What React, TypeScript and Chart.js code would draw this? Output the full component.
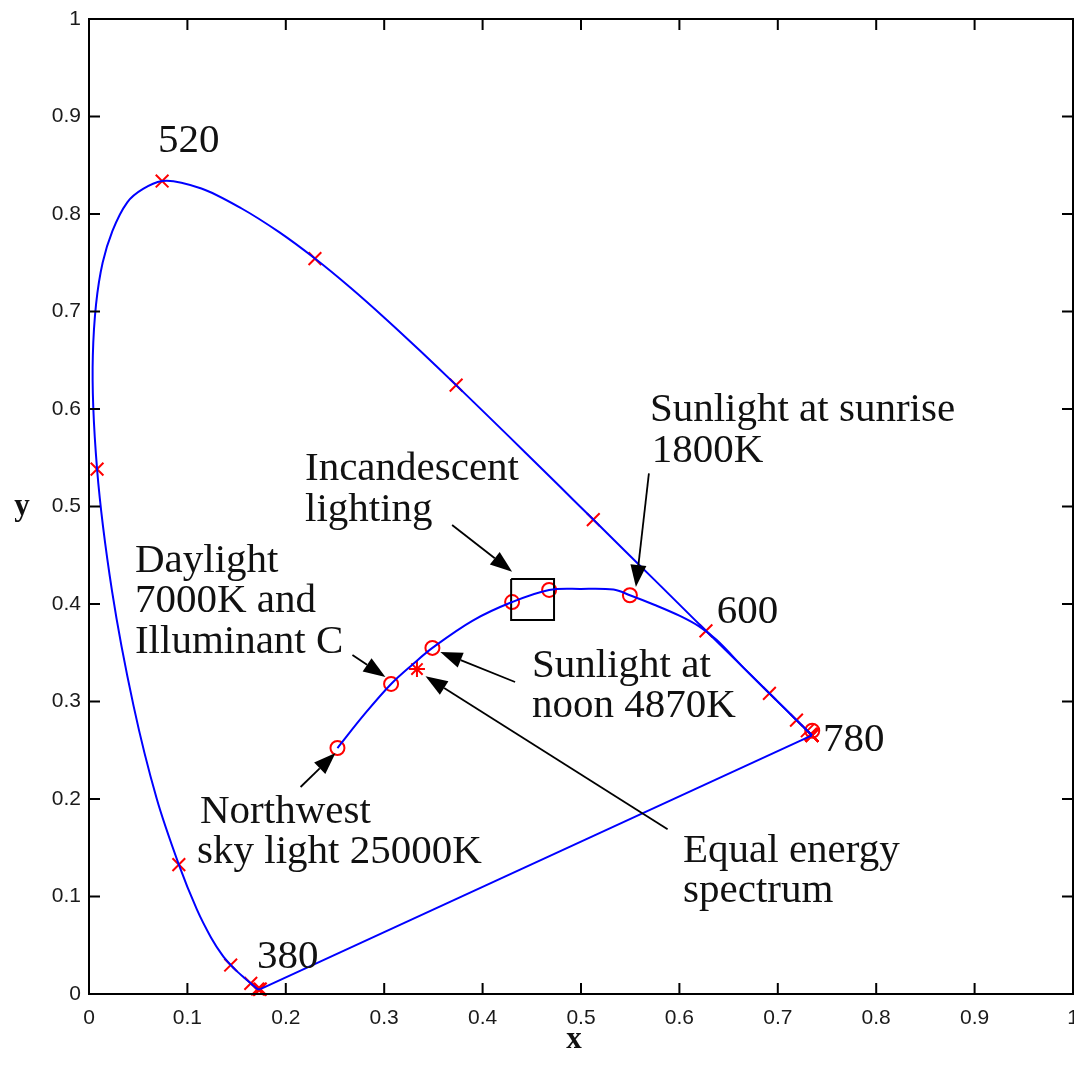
import React, { useEffect, useRef } from 'react';
import { Chart, registerables } from 'chart.js';

Chart.register(...registerables);

// CIE 1931 spectral locus (wavelength in nm)
const wavelengths = [
  380, 385, 390, 395, 400, 405, 410, 415, 420, 425, 430, 435, 440, 445, 450, 455, 460, 465, 470, 475,
  480, 485, 490, 495, 500, 505, 510, 515, 520, 525, 530, 535, 540, 545, 550, 555, 560, 565, 570, 575,
  580, 585, 590, 595, 600, 605, 610, 615, 620, 625, 630, 635, 640, 645, 650, 655, 660, 665, 670, 675,
  680, 685, 690, 695, 700, 720, 740, 760, 780,
];
const locusX = [
  0.1741, 0.174, 0.1738, 0.1736, 0.1733, 0.173, 0.1726, 0.1721, 0.1714, 0.1703, 0.1689, 0.1669, 0.1644, 0.1611, 0.1566, 0.151, 0.144, 0.1355, 0.1241, 0.1096,
  0.0913, 0.0687, 0.0454, 0.0235, 0.0082, 0.0039, 0.0139, 0.0389, 0.0743, 0.1142, 0.1547, 0.1929, 0.2296, 0.2658, 0.3016, 0.3373, 0.3731, 0.4087, 0.4441, 0.4788,
  0.5125, 0.5448, 0.5752, 0.6029, 0.627, 0.6482, 0.6658, 0.6801, 0.6915, 0.7006, 0.7079, 0.714, 0.719, 0.723, 0.726, 0.7283, 0.73, 0.7311, 0.732, 0.7327,
  0.7334, 0.734, 0.7344, 0.7346, 0.7347, 0.7347, 0.7347, 0.7347, 0.7347,
];
const locusY = [
  0.005, 0.005, 0.0049, 0.0049, 0.0048, 0.0048, 0.0048, 0.0048, 0.0051, 0.0058, 0.0069, 0.0086, 0.0109, 0.0138, 0.0177, 0.0227, 0.0297, 0.0399, 0.0578, 0.0868,
  0.1327, 0.2007, 0.295, 0.4127, 0.5384, 0.6548, 0.7502, 0.812, 0.8338, 0.8262, 0.8059, 0.7816, 0.7543, 0.7243, 0.6923, 0.6589, 0.6245, 0.5896, 0.5547, 0.5202,
  0.4866, 0.4544, 0.4242, 0.3965, 0.3725, 0.3514, 0.334, 0.3197, 0.3083, 0.2993, 0.292, 0.2859, 0.2809, 0.277, 0.274, 0.2717, 0.27, 0.2689, 0.268, 0.2673,
  0.2666, 0.266, 0.2656, 0.2654, 0.2653, 0.2653, 0.2653, 0.2653, 0.2653,
];

// Curve through the light sources (blackbody / daylight)
const sourceCurveX = [0.2525, 0.28, 0.307, 0.33, 0.349, 0.39, 0.43, 0.4676, 0.5, 0.533, 0.5497, 0.575, 0.6, 0.62, 0.638, 0.6658, 0.6915, 0.7347];
const sourceCurveY = [0.2523, 0.287, 0.318, 0.339, 0.355, 0.383, 0.402, 0.4144, 0.4155, 0.4148, 0.409, 0.399, 0.388, 0.377, 0.363, 0.334, 0.3083, 0.2653];

// Light sources marked with circles
const sourceX = [0.2525, 0.307, 0.349, 0.43, 0.4676, 0.5497, 0.735];
const sourceY = [0.2523, 0.318, 0.355, 0.402, 0.4144, 0.409, 0.27];

// Equal energy point
const equalEnergyX = [0.3333];
const equalEnergyY = [0.3333];

// Box around incandescent lighting
const boxX = [0.429, 0.4726, 0.4726, 0.429, 0.429];
const boxY = [0.4256, 0.4256, 0.3836, 0.3836, 0.4256];

// Axis ticks
const tickValues = [0, 0.1, 0.2, 0.3, 0.4, 0.5, 0.6, 0.7, 0.8, 0.9, 1];
const tickLabels = ['0', '0.1', '0.2', '0.3', '0.4', '0.5', '0.6', '0.7', '0.8', '0.9', '1'];

// Text annotations (data coordinates of baseline-left)
const noteTexts = [
  '520', 'Sunlight at sunrise', '1800K', 'Incandescent', 'lighting',
  'Daylight', '7000K and', 'Illuminant C', '600', 'Sunlight at', 'noon 4870K',
  '780', 'Northwest', 'sky light 25000K', 'Equal energy', 'spectrum', '380',
];
const noteX = [
  0.0701, 0.570, 0.572, 0.2195, 0.2195,
  0.0467, 0.0467, 0.0467, 0.638, 0.4502, 0.4502,
  0.746, 0.1128, 0.1098, 0.6037, 0.6037, 0.1707,
];
const noteY = [
  0.8636, 0.5877, 0.5456, 0.5272, 0.4851,
  0.4328, 0.3918, 0.3497, 0.3805, 0.3251, 0.2841,
  0.2492, 0.1754, 0.1344, 0.1354, 0.0944, 0.0267,
];

// Arrows (from -> to, data coordinates)
const arrowFromX = [0.369, 0.569, 0.2677, 0.433, 0.588, 0.215];
const arrowFromY = [0.481, 0.534, 0.3477, 0.32, 0.169, 0.2123];
const arrowToX = [0.43, 0.5558, 0.3012, 0.357, 0.342, 0.2505];
const arrowToY = [0.433, 0.4174, 0.3251, 0.3508, 0.326, 0.2472];

const toPts = (xs: number[], ys: number[]) => xs.map((v, i) => ({ x: v, y: ys[i] }));

const overlayPlugin = {
  id: 'overlay',
  afterDatasetsDraw(chart: any) {
    const { ctx, chartArea: a, scales } = chart;
    const sx = scales.x;
    const sy = scales.y;
    ctx.save();

    // frame
    ctx.strokeStyle = '#000';
    ctx.lineWidth = 2;
    ctx.strokeRect(a.left, a.top, a.right - a.left, a.bottom - a.top);

    // inward ticks
    const tl = 11;
    ctx.beginPath();
    tickValues.forEach((v) => {
      const px = sx.getPixelForValue(v);
      ctx.moveTo(px, a.bottom);
      ctx.lineTo(px, a.bottom - tl);
      ctx.moveTo(px, a.top);
      ctx.lineTo(px, a.top + tl);
      const py = sy.getPixelForValue(v);
      ctx.moveTo(a.left, py);
      ctx.lineTo(a.left + tl, py);
      ctx.moveTo(a.right, py);
      ctx.lineTo(a.right - tl, py);
    });
    ctx.stroke();

    // arrows
    ctx.fillStyle = '#000';
    ctx.strokeStyle = '#000';
    ctx.lineWidth = 1.8;
    for (let i = 0; i < arrowFromX.length; i++) {
      const x0 = sx.getPixelForValue(arrowFromX[i]);
      const y0 = sy.getPixelForValue(arrowFromY[i]);
      const x1 = sx.getPixelForValue(arrowToX[i]);
      const y1 = sy.getPixelForValue(arrowToY[i]);
      const ang = Math.atan2(y1 - y0, x1 - x0);
      const hl = 22;
      const hw = 8;
      const bx = x1 - hl * Math.cos(ang);
      const by = y1 - hl * Math.sin(ang);
      ctx.beginPath();
      ctx.moveTo(x0, y0);
      ctx.lineTo(bx, by);
      ctx.stroke();
      ctx.beginPath();
      ctx.moveTo(x1, y1);
      ctx.lineTo(bx + hw * Math.sin(ang), by - hw * Math.cos(ang));
      ctx.lineTo(bx - hw * Math.sin(ang), by + hw * Math.cos(ang));
      ctx.closePath();
      ctx.fill();
    }

    // text annotations
    ctx.fillStyle = '#111';
    ctx.font = '41px "Liberation Serif"';
    ctx.textAlign = 'left';
    ctx.textBaseline = 'alphabetic';
    noteTexts.forEach((t, i) => {
      ctx.fillText(t, sx.getPixelForValue(noteX[i]), sy.getPixelForValue(noteY[i]));
    });

    // axis titles
    ctx.font = 'bold 31px "Liberation Serif"';
    ctx.textAlign = 'center';
    ctx.textBaseline = 'middle';
    ctx.fillText('x', (a.left + a.right) / 2 - 7, 1040);
    ctx.fillText('y', 22, (a.top + a.bottom) / 2);

    ctx.restore();
  },
};

export default function App() {
  const ref = useRef<HTMLCanvasElement | null>(null);

  useEffect(() => {
    document.body.style.margin = '0';
    const canvas = ref.current;
    if (!canvas) return;

    const markerIdx = wavelengths.map((w, i) => (w % 20 === 0 ? i : -1)).filter((i) => i >= 0);
    const locusPts = toPts(locusX, locusY);
    const markerPts = markerIdx.map((i) => ({ x: locusX[i], y: locusY[i] }));
    const last = locusX.length - 1;
    const purplePts = [
      { x: locusX[last], y: locusY[last] },
      { x: locusX[0], y: locusY[0] },
    ];

    const tickFont = { family: '"Liberation Sans", Arial, sans-serif', size: 21 };

    const chart = new Chart(canvas, {
      type: 'scatter',
      data: {
        datasets: [
          {
            data: locusPts,
            showLine: true,
            borderColor: '#0000ff',
            borderWidth: 2,
            pointRadius: 0,
            tension: 0.3,
          },
          {
            data: purplePts,
            showLine: true,
            borderColor: '#0000ff',
            borderWidth: 2,
            pointRadius: 0,
          },
          {
            data: toPts(sourceCurveX, sourceCurveY),
            showLine: true,
            borderColor: '#0000ff',
            borderWidth: 2,
            pointRadius: 0,
            tension: 0.35,
          },
          {
            data: toPts(boxX, boxY),
            showLine: true,
            borderColor: '#000000',
            borderWidth: 2,
            pointRadius: 0,
          },
          {
            data: markerPts,
            showLine: false,
            pointStyle: 'crossRot',
            pointRadius: 9,
            borderColor: '#ff0000',
            backgroundColor: '#ff0000',
            pointBorderWidth: 2,
          },
          {
            data: toPts(sourceX, sourceY),
            showLine: false,
            pointStyle: 'circle',
            pointRadius: 7,
            borderColor: '#ff0000',
            backgroundColor: 'rgba(0,0,0,0)',
            pointBorderWidth: 2,
          },
          {
            data: toPts(equalEnergyX, equalEnergyY),
            showLine: false,
            pointStyle: 'star',
            pointRadius: 8,
            borderColor: '#ff0000',
            backgroundColor: '#ff0000',
            pointBorderWidth: 2,
          },
        ] as any,
      },
      options: {
        animation: false,
        responsive: false,
        devicePixelRatio: 1,
        clip: false as any,
        layout: { padding: { top: 19, right: 1, left: 0, bottom: 0 }, autoPadding: false } as any,
        plugins: { legend: { display: false }, tooltip: { enabled: false } },
        scales: {
          x: {
            type: 'linear',
            min: 0,
            max: 1,
            position: 'bottom',
            afterBuildTicks: (s: any) => {
              s.ticks = tickValues.map((v) => ({ value: v }));
            },
            afterFit: (s: any) => {
              s.height = 78;
              s.paddingLeft = 0;
              s.paddingRight = 0;
            },
            ticks: {
              autoSkip: false,
              maxRotation: 0,
              padding: 12,
              color: '#1a1a1a',
              font: tickFont,
              callback: (_v: any, i: number) => tickLabels[i],
            },
            grid: { display: false, drawTicks: false },
            border: { display: false },
          },
          y: {
            type: 'linear',
            min: 0,
            max: 1,
            afterBuildTicks: (s: any) => {
              s.ticks = tickValues.map((v) => ({ value: v }));
            },
            afterFit: (s: any) => {
              s.width = 89;
              s.paddingTop = 0;
              s.paddingBottom = 0;
            },
            ticks: {
              autoSkip: false,
              padding: 8,
              color: '#1a1a1a',
              font: tickFont,
              callback: (_v: any, i: number) => tickLabels[i],
            },
            grid: { display: false, drawTicks: false },
            border: { display: false },
          },
        },
      },
      plugins: [overlayPlugin],
    });

    return () => chart.destroy();
  }, []);

  return (
    <div style={{ width: 1074, height: 1072, background: '#fff' }}>
      <canvas ref={ref} width={1074} height={1072} style={{ display: 'block' }} />
    </div>
  );
}
